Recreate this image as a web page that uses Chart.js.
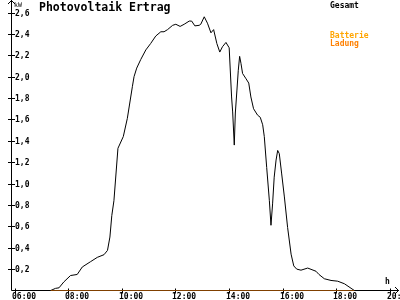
<!DOCTYPE html>
<html>
<head>
<meta charset="utf-8">
<script src="https://cdn.jsdelivr.net/npm/chart.js@4/dist/chart.umd.min.js"></script>
<style>
  html, body { margin: 0; padding: 0; background: #fff; }
  #wrap { width: 400px; height: 300px; }
</style>
</head>
<body>
<div id="wrap"><canvas id="line_chart" width="400" height="300"></canvas></div>
<script>
var title = "Photovoltaik Ertrag";

// time of day in hours, power in kW
var times = [7.35, 7.53, 7.66, 7.84, 8.09, 8.34, 8.53, 8.84, 9.09, 9.34, 9.47, 9.56, 9.63, 9.71,
  9.86, 10.06, 10.21, 10.40, 10.46, 10.56, 10.71, 10.90, 11.08, 11.27, 11.46, 11.58, 11.71, 11.90,
  12.02, 12.18, 12.33, 12.52, 12.61, 12.73, 12.89, 12.95, 13.08, 13.20, 13.33, 13.43, 13.55, 13.66,
  13.76, 13.89, 14.01, 14.10, 14.14, 14.20, 14.24, 14.30, 14.35, 14.40, 14.45, 14.51, 14.64, 14.74,
  14.82, 14.92, 15.07, 15.17, 15.26, 15.32, 15.41, 15.51, 15.57, 15.63, 15.69, 15.76, 15.82, 15.88,
  15.97, 16.07, 16.19, 16.32, 16.42, 16.53, 16.69, 16.94, 17.25, 17.36, 17.56, 17.81, 18.06, 18.31, 18.68];
var gesamt = [0, 0.02, 0.025, 0.08, 0.14, 0.15, 0.22, 0.27, 0.31, 0.335, 0.375, 0.5, 0.70, 0.84,
  1.33, 1.44, 1.61, 1.91, 2.0, 2.08, 2.16, 2.25, 2.31, 2.38, 2.42, 2.42, 2.44, 2.48,
  2.49, 2.47, 2.49, 2.52, 2.52, 2.475, 2.48, 2.49, 2.56, 2.50, 2.41, 2.44, 2.31, 2.23,
  2.28, 2.32, 2.27, 1.81, 1.67, 1.36, 1.66, 1.875, 2.06, 2.19, 2.125, 2.03, 1.98, 1.94,
  1.81, 1.70, 1.64, 1.62, 1.55, 1.44, 1.15, 0.84, 0.61, 0.81, 1.06, 1.22, 1.31, 1.28,
  1.09, 0.875, 0.59, 0.34, 0.23, 0.20, 0.19, 0.21, 0.18, 0.15, 0.11, 0.094, 0.087, 0.063, 0];

var ladungTimes = [7.35, 18.68];
var ladung = [0, 0];

var xTicks = [6, 8, 10, 12, 14, 16, 18, 20];
var xTickLabels = ["06:00", "08:00", "10:00", "12:00", "14:00", "16:00", "18:00", "20:00"];
var yTicks = [0.2, 0.4, 0.6, 0.8, 1.0, 1.2, 1.4, 1.6, 1.8, 2.0, 2.2, 2.4, 2.6];
var yTickLabels = ["0,2", "0,4", "0,6", "0,8", "1,0", "1,2", "1,4", "1,6", "1,8", "2,0", "2,2", "2,4", "2,6"];

function points(xs, ys) {
  var out = [];
  for (var i = 0; i < xs.length; i++) out.push({ x: xs[i], y: ys[i] });
  return out;
}

var small = "bold 8px 'DejaVu Sans Mono'";

var axesPlugin = {
  id: 'axes',
  beforeDatasetsDraw: function (chart) {
    var ctx = chart.ctx, a = chart.chartArea;
    var xs = chart.scales.x, ys = chart.scales.y;
    var ax = Math.floor(a.left) + 0.5, ay = Math.floor(a.bottom) + 0.5;
    ctx.save();
    ctx.strokeStyle = '#000';
    ctx.lineWidth = 1;
    ctx.beginPath();
    // y axis with arrow
    ctx.moveTo(ax, ay); ctx.lineTo(ax, 0);
    ctx.moveTo(ax - 3.5, 4); ctx.lineTo(ax, 0.5); ctx.lineTo(ax + 3.5, 4);
    // x axis with arrow
    ctx.moveTo(ax, ay); ctx.lineTo(399, ay);
    ctx.moveTo(395, ay - 3.5); ctx.lineTo(398.5, ay); ctx.lineTo(395, ay + 3.5);
    // tick marks
    xTicks.forEach(function (v) {
      var px = Math.round(xs.getPixelForValue(v)) + 0.5;
      ctx.moveTo(px, ay - 2); ctx.lineTo(px, ay + 3);
    });
    yTicks.forEach(function (v) {
      var py = Math.round(ys.getPixelForValue(v)) + 0.5;
      ctx.moveTo(ax - 3.5, py); ctx.lineTo(ax + 3.5, py);
    });
    ctx.stroke();
    ctx.restore();
  },
  afterDraw: function (chart) {
    var ctx = chart.ctx;
    var xs = chart.scales.x, ys = chart.scales.y;
    ctx.save();
    ctx.fillStyle = '#000';
    ctx.font = small;
    ctx.textAlign = 'left';
    ctx.textBaseline = 'alphabetic';
    xTicks.forEach(function (v, i) {
      ctx.fillText(xTickLabels[i], Math.round(xs.getPixelForValue(v)) - 3, 298.5);
    });
    ctx.textBaseline = 'middle';
    yTicks.forEach(function (v, i) {
      ctx.fillText(yTickLabels[i], 15, Math.round(ys.getPixelForValue(v)) + 0.5);
    });
    ctx.textBaseline = 'alphabetic';
    ctx.fillText("h", 385, 284);
    ctx.font = "6.5px 'DejaVu Sans Mono'";
    ctx.fillText("kW", 14, 6.5);

    // title
    ctx.font = "bold 11.5px 'DejaVu Sans Mono'";
    ctx.fillText(title, 39, 11);

    // legend
    ctx.font = small;
    ctx.fillStyle = '#000';
    ctx.fillText(chart.data.datasets[1].label, 330, 7.5);
    var parts = chart.data.datasets[0].label.split(' ');
    ctx.fillStyle = '#ffa500';
    ctx.fillText(parts[0], 330, 38);
    ctx.fillStyle = '#ff8000';
    ctx.fillText(parts[1], 330, 46);
    ctx.restore();
  }
};

new Chart(document.getElementById("line_chart").getContext("2d"), {
  type: 'line',
  data: {
    datasets: [{
      label: "Batterie Ladung",
      data: points(ladungTimes, ladung),
      borderColor: '#ff8000',
      borderWidth: 1,
      pointRadius: 0,
      tension: 0,
      order: 0
    }, {
      label: "Gesamt",
      data: points(times, gesamt),
      borderColor: '#000000',
      borderWidth: 1,
      pointRadius: 0,
      tension: 0,
      order: 1
    }]
  },
  options: {
    responsive: false,
    animation: false,
    devicePixelRatio: 1,
    layout: { padding: { left: 11.5, right: 0, top: 0, bottom: 9.5 } },
    plugins: { legend: { display: false }, tooltip: { enabled: false } },
    scales: {
      x: { type: 'linear', min: 5.888, max: 20.384, display: false },
      y: { min: 0, max: 2.717, display: false }
    }
  },
  plugins: [axesPlugin]
});
</script>
</body>
</html>
